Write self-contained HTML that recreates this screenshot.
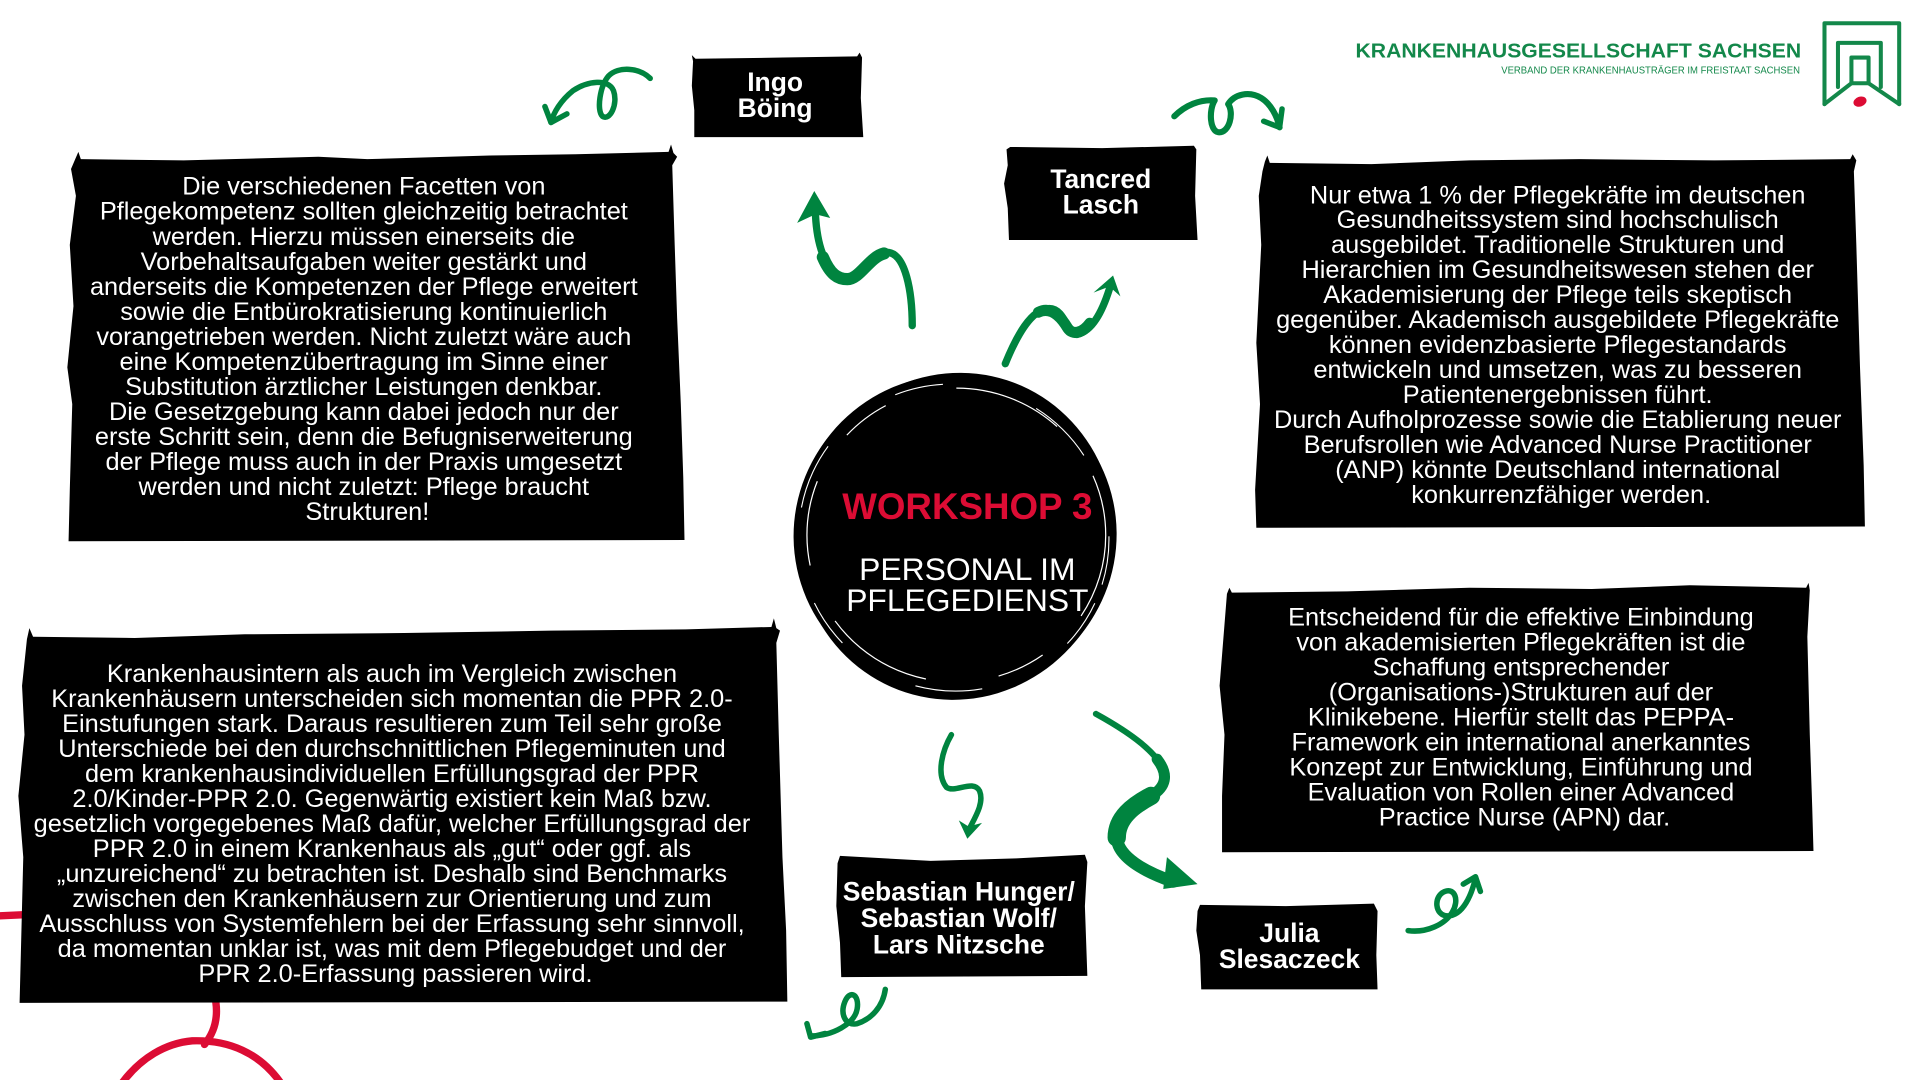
<!DOCTYPE html>
<html><head><meta charset="utf-8"><title>Workshop 3</title>
<style>
html,body{margin:0;padding:0;background:#fff;}
svg{display:block;}
.t{font-family:"Liberation Sans",Arial,sans-serif;fill:#fff;font-size:20.7px;text-anchor:middle;}
.n{font-family:"Liberation Sans",Arial,sans-serif;fill:#fff;font-size:21.6px;font-weight:bold;text-anchor:middle;}
.g{fill:none;stroke:#00843f;stroke-linecap:round;stroke-linejoin:round;}
.gf{fill:#00843f;}
.r{fill:none;stroke:#dc0c34;stroke-width:6;stroke-linecap:round;}
</style></head>
<body>
<svg width="1920" height="1080" viewBox="0 0 1568 882" xmlns="http://www.w3.org/2000/svg">
<rect x="0" y="0" width="1568" height="882" fill="#fff"/>

<!-- red curves (behind boxes) -->
<path class="r" d="M-2,748 L20,747"/>
<path class="r" d="M175,812 C179,828 176,842 167,853"/>
<path class="r" d="M100,884 C115,864 135,852 157,850 C187,849 212,860 229,884"/>

<!-- Logo -->
<text x="1107" y="47" font-family="'Liberation Sans',Arial,sans-serif" font-size="16.5" font-weight="bold" fill="#13884a" textLength="364" lengthAdjust="spacingAndGlyphs">KRANKENHAUSGESELLSCHAFT SACHSEN</text>
<text x="1226" y="60" font-family="'Liberation Sans',Arial,sans-serif" font-size="8" fill="#13884a" textLength="244" lengthAdjust="spacingAndGlyphs">VERBAND DER KRANKENHAUSTRÄGER IM FREISTAAT SACHSEN</text>
<g transform="translate(7,0)">
<g fill="none" stroke="#13884a" stroke-width="3.3" stroke-linejoin="round" stroke-linecap="round">
  <path d="M1483,85 L1483,19 L1544,19 L1544,85"/>
  <path d="M1494,71 L1494,35 L1529,35 L1529,71"/>
  <path d="M1505,68 L1505,47 L1519,47 L1519,68 Z"/>
  <path d="M1483,85 L1505,68"/>
  <path d="M1544,85 L1519,68"/>
</g>
<ellipse cx="1512" cy="83" rx="5.5" ry="4" fill="#dc0c34" transform="rotate(-20 1512 83)"/>
</g>

<!-- Box A -->
<path fill="#000" d="M58,138 L61,131 L64,124 L66,130 L150,131 L260,128 L300,130 L400,127 L470,126 L546,124 L548,118 L550,125 L553,128 L549,135 L551,200 L553,260 L556,330 L558,390 L559,441 L56,442 L57,400 L59,330 L55,300 L60,250 L57,200 L62,160 Z"/>
<text class="t">
<tspan x="300" y="159">Die verschiedenen Facetten von</tspan>
<tspan x="300" y="179.45">Pflegekompetenz sollten gleichzeitig betrachtet</tspan>
<tspan x="300" y="199.9">werden. Hierzu müssen einerseits die</tspan>
<tspan x="300" y="220.35">Vorbehaltsaufgaben weiter gestärkt und</tspan>
<tspan x="300" y="240.8">anderseits die Kompetenzen der Pflege erweitert</tspan>
<tspan x="300" y="261.25">sowie die Entbürokratisierung kontinuierlich</tspan>
<tspan x="300" y="281.7">vorangetrieben werden. Nicht zuletzt wäre auch</tspan>
<tspan x="300" y="302.15">eine Kompetenzübertragung im Sinne einer</tspan>
<tspan x="300" y="322.6">Substitution ärztlicher Leistungen denkbar.</tspan>
<tspan x="300" y="343.05">Die Gesetzgebung kann dabei jedoch nur der</tspan>
<tspan x="300" y="363.5">erste Schritt sein, denn die Befugniserweiterung</tspan>
<tspan x="300" y="383.95">der Pflege muss auch in der Praxis umgesetzt</tspan>
<tspan x="300" y="404.4">werden und nicht zuletzt: Pflege braucht</tspan>
<tspan x="300" y="424.85">Strukturen!</tspan>
</text>

<!-- Box B -->
<path fill="#000" d="M1031,140 L1033,132 L1035,127 L1037,133 L1120,134 L1200,131 L1290,130 L1400,131 L1511,130 L1513,126 L1516,131 L1514,140 L1516,200 L1519,300 L1522,380 L1523,430 L1026,431 L1025,400 L1029,330 L1026,280 L1030,200 L1028,160 Z"/>
<text class="t">
<tspan x="1275" y="166">Nur etwa 1 % der Pflegekräfte im deutschen</tspan>
<tspan x="1275" y="186.4">Gesundheitssystem sind hochschulisch</tspan>
<tspan x="1275" y="206.8">ausgebildet. Traditionelle Strukturen und</tspan>
<tspan x="1275" y="227.2">Hierarchien im Gesundheitswesen stehen der</tspan>
<tspan x="1275" y="247.6">Akademisierung der Pflege teils skeptisch</tspan>
<tspan x="1275" y="268">gegenüber. Akademisch ausgebildete Pflegekräfte</tspan>
<tspan x="1275" y="288.4">können evidenzbasierte Pflegestandards</tspan>
<tspan x="1275" y="308.8">entwickeln und umsetzen, was zu besseren</tspan>
<tspan x="1275" y="329.2">Patientenergebnissen führt.</tspan>
<tspan x="1275" y="349.6">Durch Aufholprozesse sowie die Etablierung neuer</tspan>
<tspan x="1275" y="370">Berufsrollen wie Advanced Nurse Practitioner</tspan>
<tspan x="1275" y="390.4">(ANP) könnte Deutschland international</tspan>
<tspan x="1275" y="410.8">konkurrenzfähiger werden.</tspan>
</text>

<!-- Box C -->
<path fill="#000" d="M1002,485 L1004,480 L1006,484 L1100,483 L1200,480 L1300,481 L1380,478 L1475,480 L1477,476 L1478,482 L1476,520 L1478,600 L1480,660 L1481,695 L998,696 L998,650 L1000,600 L996,560 L1000,510 Z"/>
<text class="t">
<tspan x="1245" y="511">Entscheidend für die effektive Einbindung</tspan>
<tspan x="1245" y="531.4">von akademisierten Pflegekräften ist die</tspan>
<tspan x="1245" y="551.8">Schaffung entsprechender</tspan>
<tspan x="1245" y="572.2">(Organisations-)Strukturen auf der</tspan>
<tspan x="1245" y="592.6">Klinikebene. Hierfür stellt das PEPPA-</tspan>
<tspan x="1245" y="613">Framework ein international anerkanntes</tspan>
<tspan x="1245" y="633.4">Konzept zur Entwicklung, Einführung und</tspan>
<tspan x="1245" y="653.8">Evaluation von Rollen einer Advanced</tspan>
<tspan x="1245" y="674.2">Practice Nurse (APN) dar.</tspan>
</text>

<!-- Box D -->
<path fill="#000" d="M22,522 L24,513 L27,520 L110,521 L200,518 L330,517 L450,515 L560,514 L630,512 L632,505 L634,513 L637,515 L634,525 L636,600 L639,700 L642,760 L643,818 L16,819 L17,780 L19,700 L15,650 L20,600 L18,560 Z"/>
<text class="t">
<tspan x="323" y="557">Krankenhausintern als auch im Vergleich zwischen</tspan>
<tspan x="323" y="577.4">Krankenhäusern unterscheiden sich momentan die PPR 2.0-</tspan>
<tspan x="323" y="597.8">Einstufungen stark. Daraus resultieren zum Teil sehr große</tspan>
<tspan x="323" y="618.2">Unterschiede bei den durchschnittlichen Pflegeminuten und</tspan>
<tspan x="323" y="638.6">dem krankenhausindividuellen Erfüllungsgrad der PPR</tspan>
<tspan x="323" y="659">2.0/Kinder-PPR 2.0. Gegenwärtig existiert kein Maß bzw.</tspan>
<tspan x="323" y="679.4">gesetzlich vorgegebenes Maß dafür, welcher Erfüllungsgrad der</tspan>
<tspan x="323" y="699.8">PPR 2.0 in einem Krankenhaus als „gut“ oder ggf. als</tspan>
<tspan x="323" y="720.2">„unzureichend“ zu betrachten ist. Deshalb sind Benchmarks</tspan>
<tspan x="323" y="740.6">zwischen den Krankenhäusern zur Orientierung und zum</tspan>
<tspan x="323" y="761">Ausschluss von Systemfehlern bei der Erfassung sehr sinnvoll,</tspan>
<tspan x="323" y="781.4">da momentan unklar ist, was mit dem Pflegebudget und der</tspan>
<tspan x="323" y="801.8">PPR 2.0-Erfassung passieren wird.</tspan>
</text>

<!-- Name boxes -->
<path fill="#000" d="M566,50 L565,45 L568,48 L640,47 L700,46 L702,43 L704,47 L703,80 L705,112 L567,112 L567,90 L565,70 Z"/>
<text class="n"><tspan x="633" y="74.5">Ingo</tspan><tspan x="633" y="95.5">Böing</tspan></text>

<path fill="#000" d="M822,122 L825,120 L900,121 L975,119 L977,122 L976,160 L978,196 L824,196 L823,170 L820,150 L823,135 Z"/>
<text class="n"><tspan x="899" y="153.5">Tancred</tspan><tspan x="899" y="174.5">Lasch</tspan></text>

<path fill="#000" d="M684,705 L686,699 L760,703 L830,701 L886,698 L888,704 L886,740 L888,797 L687,798 L686,770 L683,740 Z"/>
<text class="n"><tspan x="783" y="735.5">Sebastian Hunger/</tspan><tspan x="783" y="757">Sebastian Wolf/</tspan><tspan x="783" y="778.5">Lars Nitzsche</tspan></text>

<path fill="#000" d="M978,744 L980,739 L1050,740 L1122,738 L1125,744 L1124,780 L1125,808 L981,808 L980,780 L977,760 Z"/>
<text class="n"><tspan x="1053" y="769.5">Julia</tspan><tspan x="1053" y="790.5">Slesaczeck</tspan></text>

<!-- Center circle -->
<ellipse cx="780" cy="437" rx="132" ry="130" fill="#000" transform="rotate(-12 780 437)"/>
<ellipse cx="781" cy="438" rx="129" ry="134" fill="#000" transform="rotate(18 781 438)"/>
<circle cx="780" cy="437" r="131" fill="#000"/>
<ellipse cx="781" cy="437" rx="122" ry="120" fill="none" stroke="#fff" stroke-width="1" stroke-dasharray="70 45 40 60 90 50"/>
<ellipse cx="779" cy="439" rx="127" ry="125" fill="none" stroke="#fff" stroke-width="0.9" stroke-dasharray="40 80 55 70" transform="rotate(25 779 439)"/>
<text x="790" y="424" font-family="'Liberation Sans',Arial,sans-serif" font-size="30" font-weight="bold" fill="#dc0c34" text-anchor="middle">WORKSHOP 3</text>
<text x="790" y="473.5" font-family="'Liberation Sans',Arial,sans-serif" font-size="26" fill="#fff" text-anchor="middle">PERSONAL IM</text>
<text x="790" y="499" font-family="'Liberation Sans',Arial,sans-serif" font-size="26" fill="#fff" text-anchor="middle">PFLEGEDIENST</text>

<!-- Green arrows -->
<path class="g" stroke-width="4.5" d="M531,64 C522,55 505,54 497,62 C490,70 487,90 492,95 C498,99 505,85 501,74 C497,64 480,66 468,74 C458,82 452,92 450,100"/>
<path class="g" stroke-width="4.5" d="M445,87 L450,100 L463,93"/>

<path class="g" stroke-width="6" d="M666,176 C667,195 672,222 690,228 C702,232 710,208 724,206 C740,206 745,240 745,266"/>
<path class="g" stroke-width="10" d="M672,210 C678,224 684,228 692,228 C702,228 710,210 722,207"/>
<path class="gf" d="M665,156 L651,182 L666,175 L678,178 Z"/>

<path class="g" stroke-width="6" d="M821,297 C830,275 842,252 857,252 C870,252 872,275 880,273 C892,270 900,255 906,236"/>
<path class="g" stroke-width="9" d="M848,255 C858,250 866,258 872,268 C876,274 884,272 890,264"/>
<path class="gf" d="M909,225 L893,239 L906,234 L915,242 Z"/>

<path class="g" stroke-width="5" d="M959,95 C968,86 980,81 992,82 C987,90 988,107 995,108 C1004,109 1008,92 1003,85 C1008,77 1020,74 1030,80 C1038,85 1043,95 1045,104"/>
<path class="g" stroke-width="4.5" d="M1032,99 L1045,104 L1047,89"/>

<path class="g" stroke-width="4.5" d="M777,600 C770,612 764,632 773,643 C780,648 795,636 800,646 C804,656 796,668 791,678"/>
<path class="gf" d="M790,685 L783,670 L791,675 L802,672 Z"/>

<path class="g" stroke-width="5" d="M895,583 C915,594 935,607 945,620"/>
<path class="g" stroke-width="9" d="M945,620 C955,633 952,643 940,650"/>
<path class="g" stroke-width="15" d="M940,650 C925,658 912,668 912,684"/>
<path class="g" stroke-width="10" d="M912,684 C913,700 935,712 958,720"/>
<path class="gf" d="M953,700 L978,722 L950,726 Z"/>

<path class="g" stroke-width="4.5" d="M723,808 C721,822 712,832 700,836 C690,838 686,828 690,818 C694,808 702,812 700,824 C698,836 680,846 662,846"/>
<path class="g" stroke-width="4.5" d="M659,836 L662,847 L674,844"/>

<path class="g" stroke-width="4.5" d="M1150,760 C1165,762 1180,755 1186,745 C1192,735 1188,725 1180,728 C1170,732 1172,748 1182,748 C1195,748 1202,730 1205,717"/>
<path class="g" stroke-width="4.5" d="M1195,722 L1205,716 L1209,728"/>
</svg>
</body></html>
